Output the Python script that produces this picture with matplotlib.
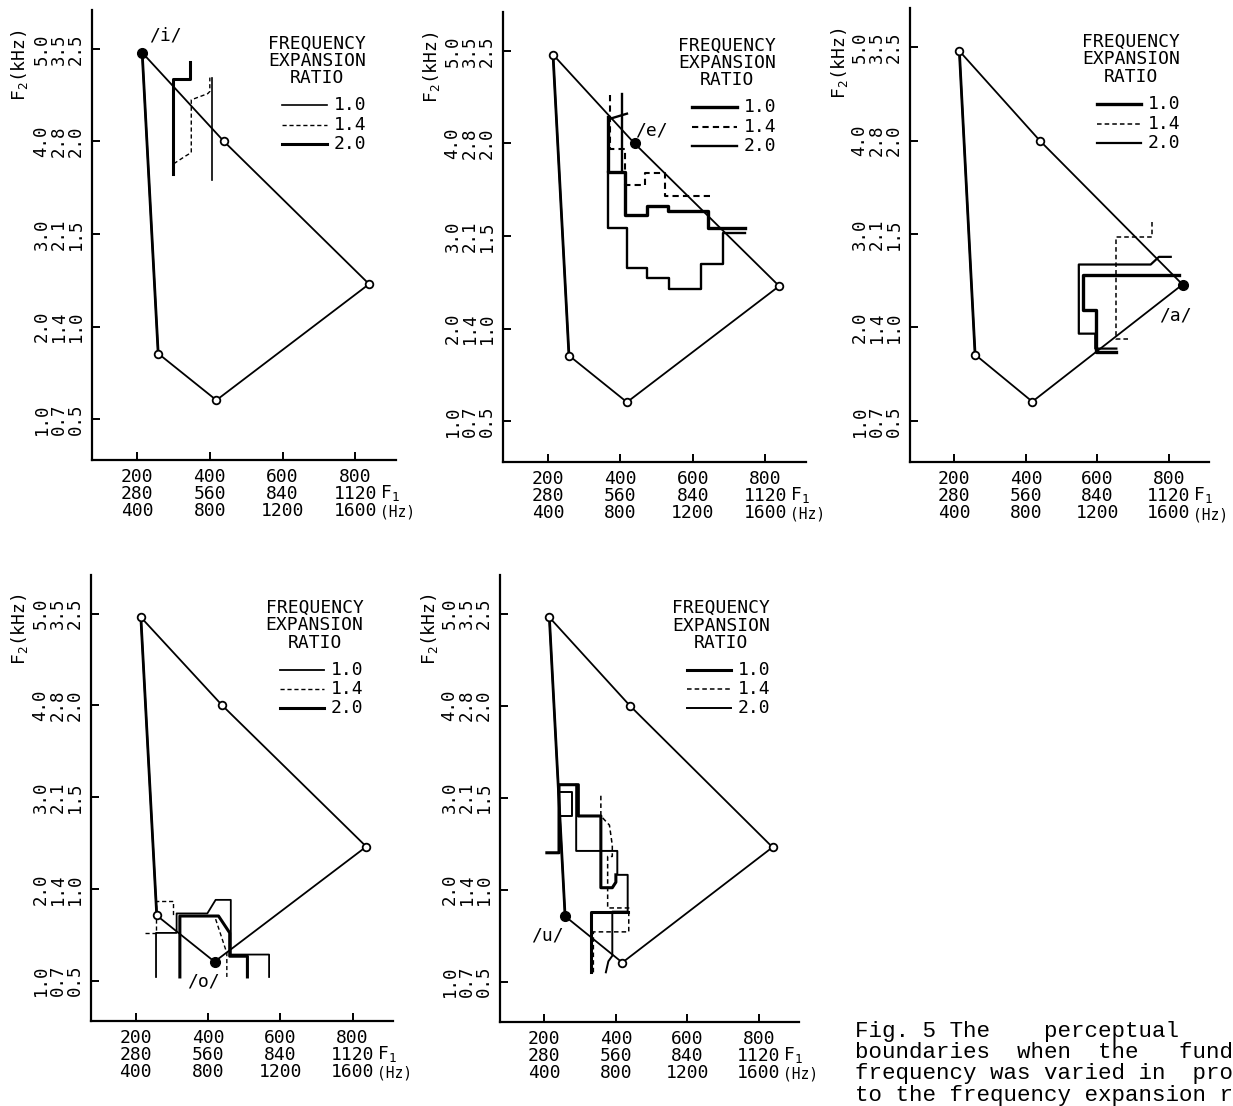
import matplotlib
matplotlib.use("Agg")
import matplotlib.pyplot as plt

plt.rcParams["font.family"] = ["DejaVu Sans Mono"]
plt.rcParams["mathtext.fontset"] = "custom"
plt.rcParams["mathtext.rm"] = "DejaVu Sans Mono"
plt.rcParams["mathtext.default"] = "rm"

# vowel targets (F1 in Hz, F2 in kHz, on the ratio-1.0 scale)
vowels = ["i", "e", "a", "o", "u"]
f1 = [214, 439, 838, 418, 258]
f2 = [2.48, 2.0, 1.23, 0.603, 0.855]

x_ticks = [200, 400, 600, 800]
x_ticklabels = ["200\n280\n400", "400\n560\n800", "600\n840\n1200", "800\n1120\n1600"]
y_ticks = [0.5, 1.0, 1.5, 2.0, 2.5]
y_ticklabels = ["1.0\n0.7\n0.5", "2.0\n1.4\n1.0", "3.0\n2.1\n1.5", "4.0\n2.8\n2.0", "5.0\n3.5\n2.5"]
ratios = ["1.0", "1.4", "2.0"]

# perceptual boundaries: for each ratio a list of polylines (F1 list, F2 list)
bound_i = {
    "1.0": [([405, 405], [1.79, 2.345])],
    "1.4": [([301, 332, 349, 349, 394, 400, 400], [1.88, 1.92, 1.94, 2.225, 2.258, 2.27, 2.345])],
    "2.0": [([298, 298, 346, 346], [1.825, 2.34, 2.34, 2.43])],
}
bound_e = {
    "1.0": [([365, 365, 413, 413, 473, 473, 532, 532, 642, 642, 745],
             [2.143, 1.848, 1.848, 1.615, 1.615, 1.66, 1.66, 1.633, 1.633, 1.544, 1.544])],
    "1.4": [([370, 370, 413, 413, 468, 468, 523, 523, 646],
             [2.26, 1.97, 1.97, 1.776, 1.776, 1.839, 1.839, 1.714, 1.714])],
    "2.0": [([365, 365, 418, 418, 473, 473, 533, 533, 623, 623, 683, 683, 745],
             [1.848, 1.544, 1.544, 1.329, 1.329, 1.275, 1.275, 1.213, 1.213, 1.347, 1.347, 1.517, 1.517]),
            ([404, 404], [2.268, 1.85]),
            ([372, 418], [2.134, 2.161])],
}
bound_a = {
    "1.0": [([827, 559, 559, 596, 596, 653], [1.28, 1.28, 1.092, 1.092, 0.869, 0.869])],
    "1.4": [([754, 754, 653, 653, 694], [1.566, 1.486, 1.486, 0.94, 0.94])],
    "2.0": [([805, 772, 749, 548, 548, 594, 594, 653], [1.378, 1.378, 1.337, 1.337, 0.967, 0.967, 0.887, 0.887])],
}
bound_o = {
    "1.0": [([256, 256, 313, 313, 398, 421, 463, 463, 569, 569],
             [0.52, 0.76, 0.76, 0.866, 0.866, 0.94, 0.94, 0.642, 0.642, 0.52])],
    "1.4": [([226, 255, 255, 304, 304], [0.76, 0.76, 0.936, 0.936, 0.85]),
            ([421, 452, 452], [0.835, 0.65, 0.52])],
    "2.0": [([322, 322, 429, 460, 460, 509, 509], [0.52, 0.852, 0.852, 0.76, 0.633, 0.633, 0.52])],
}
bound_u = {
    "1.0": [([207, 241, 241, 295, 295, 358, 358, 390, 400, 400],
             [1.2, 1.2, 1.57, 1.57, 1.4, 1.4, 1.01, 1.01, 1.04, 1.08]),
            ([331, 331, 433], [0.55, 0.88, 0.88])],
    "1.4": [([358, 358, 382, 390, 390, 377, 377, 436, 436, 337, 337],
             [1.51, 1.4, 1.35, 1.24, 1.18, 1.18, 0.9, 0.9, 0.77, 0.77, 0.54])],
    "2.0": [([289, 289, 404, 404, 433, 433, 390, 390, 379, 372],
             [1.57, 1.21, 1.21, 1.08, 1.08, 0.88, 0.88, 0.64, 0.61, 0.55]),
            ([244, 276, 276, 247], [1.4, 1.4, 1.53, 1.53])],
}

caption = ["Fig. 5 The    perceptual",
           "boundaries  when  the   fund",
           "frequency was varied in  pro",
           "to the frequency expansion r"]

W, H = 1233, 1106
fig = plt.figure(figsize=(W / 100, H / 100), dpi=100)

# panel: target vowel, boundaries, line widths per ratio, box (left, top, right, bottom px), label offset
panels = [
    ("i", bound_i, {"1.0": 1.2, "1.4": 1.0, "2.0": 2.2}, (92, 10, 396, 460), (17, 12)),
    ("e", bound_e, {"1.0": 2.4, "1.4": 1.5, "2.0": 1.7}, (503, 12, 806, 462), (12, 9)),
    ("a", bound_a, {"1.0": 2.4, "1.4": 1.1, "2.0": 1.6}, (910, 8, 1209, 462), (-5, -22)),
    ("o", bound_o, {"1.0": 1.3, "1.4": 1.0, "2.0": 2.2}, (91, 575, 393, 1021), (-8, -14)),
    ("u", bound_u, {"1.0": 2.2, "1.4": 1.1, "2.0": 1.4}, (500, 575, 799, 1022), (-13, -14)),
]

for target, bounds, lws, (l, t, r, b), off in panels:
    ax = fig.add_axes([l / W, 1 - b / H, (r - l) / W, (b - t) / H])
    ax.set_xlim(76, 912)
    ax.set_ylim(0.28, 2.71)

    # vowel pentagon
    px = f1 + [f1[0]]
    py = f2 + [f2[0]]
    ax.plot(px, py, color="black", lw=1.3, zorder=2)
    ax.plot([f1[0], f1[4]], [f2[0], f2[4]], color="black", lw=2.0, zorder=2)
    for v, x, y in zip(vowels, f1, f2):
        if v == target:
            ax.plot(x, y, "o", color="black", ms=7, zorder=4)
            ax.annotate("/" + v + "/", (x, y), xytext=off, textcoords="offset points",
                        ha="center", va="center", fontsize=13)
        else:
            ax.plot(x, y, "o", mfc="white", mec="black", ms=5.5, mew=1.3, zorder=4)

    # boundaries + hand-made key
    ax.text(0.74, 0.887, "FREQUENCY\nEXPANSION\nRATIO", transform=ax.transAxes,
            ha="center", va="center", multialignment="center", fontsize=13, linespacing=0.95)
    for k, rt in enumerate(ratios):
        ls = (0, (3, 2)) if rt == "1.4" else "-"
        for xs, ys in bounds[rt]:
            ax.plot(xs, ys, color="black", lw=lws[rt], ls=ls, zorder=3)
        ky = [0.788, 0.745, 0.702][k]
        ax.plot([0.625, 0.772], [ky, ky], transform=ax.transAxes, color="black", lw=lws[rt], ls=ls)
        ax.text(0.795, ky, rt, transform=ax.transAxes, ha="left", va="center", fontsize=13)

    for s in ["top", "right"]:
        ax.spines[s].set_visible(False)
    for s in ["left", "bottom"]:
        ax.spines[s].set_linewidth(1.6)
    ax.set_xticks(x_ticks)
    ax.set_xticklabels(x_ticklabels, fontsize=13, linespacing=0.9)
    ax.set_yticks(y_ticks)
    ax.set_yticklabels(y_ticklabels, fontsize=12.5, rotation=90, va="center", linespacing=0.95)
    ax.tick_params(axis="x", direction="in", length=6, width=1.4, pad=6)
    ax.tick_params(axis="y", direction="in", length=6, width=1.4, pad=5)

    ax.text(0.98, -0.073, "F$_1$", transform=ax.transAxes, ha="center", va="center", fontsize=13)
    ax.text(1.005, -0.116, "(Hz)", transform=ax.transAxes, ha="center", va="center", fontsize=10.5)
    ax.text(-0.237, 0.878, "F$_2$(kHz)", transform=ax.transAxes, ha="center", va="center",
            rotation=90, fontsize=13)

for k, line in enumerate(caption):
    fig.text(855 / W, 1 - (1032 + 21 * k) / H, line, fontfamily="Liberation Mono",
             fontsize=16.2, va="center", ha="left")

fig.savefig("out.png", dpi=100)
